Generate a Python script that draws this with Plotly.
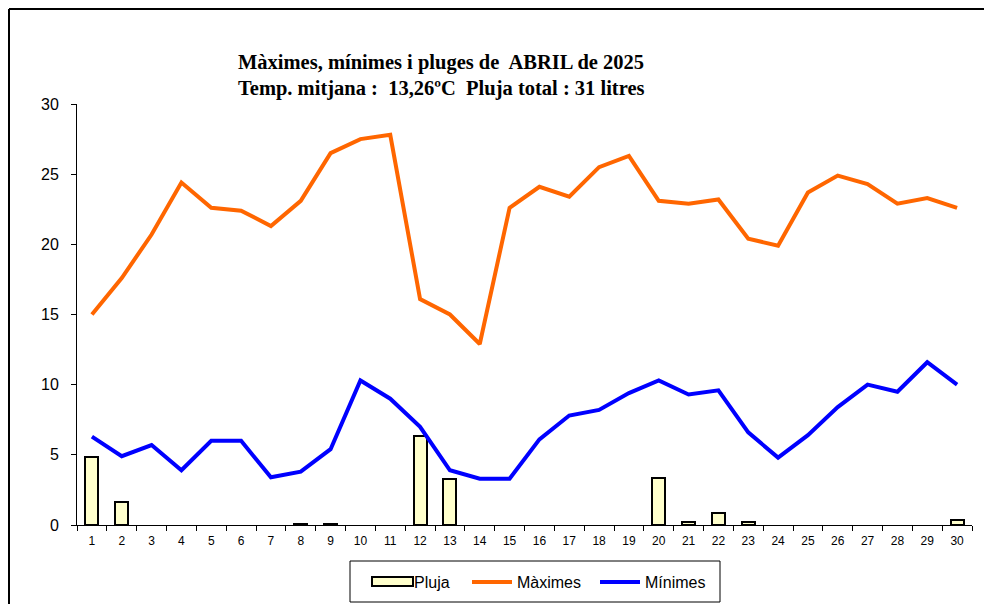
import plotly.graph_objects as go

days = [str(d) for d in range(1, 31)]
maximes = [15.0, 17.6, 20.7, 24.4, 22.6, 22.4, 21.3, 23.1, 26.5, 27.5,
           27.8, 16.1, 15.0, 12.9, 22.6, 24.1, 23.4, 25.5, 26.3, 23.1,
           22.9, 23.2, 20.4, 19.9, 23.7, 24.9, 24.3, 22.9, 23.3, 22.6]
minimes = [6.3, 4.9, 5.7, 3.9, 6.0, 6.0, 3.4, 3.8, 5.4, 10.3,
           9.0, 7.0, 3.9, 3.3, 3.3, 6.1, 7.8, 8.2, 9.4, 10.3,
           9.3, 9.6, 6.6, 4.8, 6.4, 8.4, 10.0, 9.5, 11.6, 10.0]
pluja = [4.85, 1.65, None, None, None, None, None, 0.1, 0.1, None,
         None, 6.35, 3.25, None, None, None, None, None, None, 3.35,
         0.2, 0.85, 0.2, None, None, None, None, None, None, 0.35]
yticks = [0, 5, 10, 15, 20, 25, 30]
title_lines = ["Màximes, mínimes i pluges de  ABRIL de 2025",
               "Temp. mitjana :  13,26ºC  Pluja total : 31 litres"]

OFF = 8  # page body margin
W, H = 992 - OFF, 604 - OFF
L, T = 77 - OFF, 104 - OFF
R = W - (972 - OFF)
B = H - (525 - OFF)
pw, ph = W - L - R, H - T - B

def px(x):
    return (x - OFF - L) / pw

def py(y):
    return (H - B - (y - OFF)) / ph

BAR_FILL = "#FFFFCC"

fig = go.Figure()
fig.add_trace(go.Bar(x=days, y=pluja, name="Pluja", width=0.44, showlegend=False,
                     marker=dict(color=BAR_FILL, line=dict(color="black", width=2))))
# legend entry for the bars (symbol drawn as a shape below)
fig.add_trace(go.Scatter(x=[None], y=[None], name="Pluja", mode="lines", legend="legend",
                         line=dict(color="rgba(0,0,0,0)", width=0)))
fig.add_trace(go.Scatter(x=days, y=maximes, name="Màximes", mode="lines", legend="legend2",
                         line=dict(color="#FF6600", width=4)))
fig.add_trace(go.Scatter(x=days, y=minimes, name="Mínimes", mode="lines", legend="legend3",
                         line=dict(color="#0000FF", width=4)))

def leg(x_text):
    return dict(orientation="h", x=px(x_text - 50), xanchor="left", y=py(582),
                yanchor="middle", borderwidth=0, bgcolor="rgba(0,0,0,0)",
                font=dict(size=16), itemwidth=40)

fig.update_layout(
    width=W, height=H,
    margin=dict(l=L, r=R, t=T, b=B, pad=0, autoexpand=False),
    paper_bgcolor="white", plot_bgcolor="white",
    font=dict(family="Arial, Liberation Sans, sans-serif", color="black"),
    showlegend=True,
    legend=leg(414), legend2=leg(517), legend3=leg(645),
    xaxis=dict(type="category", range=[-0.5, 29.5], showline=True, linecolor="black",
               linewidth=1, ticks="outside", tickson="boundaries", ticklen=5,
               tickcolor="black", tickfont=dict(size=12), showgrid=False, zeroline=False,
               ticklabelstandoff=5),
    yaxis=dict(range=[0, 30], tickvals=yticks, showline=True, linecolor="black",
               linewidth=1, ticks="outside", ticklen=5, tickcolor="black",
               tickfont=dict(size=16), showgrid=False, zeroline=False,
               ticklabelstandoff=9),
    bargap=0,
)

for t, yy in zip(title_lines, [63, 88]):
    fig.add_annotation(text="<b>%s</b>" % t, xref="paper", yref="paper",
                       x=px(441), y=py(yy), xanchor="center", yanchor="middle",
                       showarrow=False,
                       font=dict(family="Liberation Serif, Times New Roman, serif",
                                 size=20.5, color="black"))

# legend box
fig.add_shape(type="rect", xref="paper", yref="paper",
              x0=px(350), y0=py(561), x1=px(720), y1=py(602),
              line=dict(color="black", width=1), fillcolor="rgba(0,0,0,0)", layer="below")
# Pluja legend symbol
fig.add_shape(type="rect", xref="paper", yref="paper",
              x0=px(372), y0=py(577), x1=px(413), y1=py(586),
              line=dict(color="black", width=2), fillcolor=BAR_FILL, layer="above")

# outer frame
fig.add_shape(type="line", xref="paper", yref="paper",
              x0=px(9), y0=py(9), x1=px(992), y1=py(9),
              line=dict(color="black", width=2))
fig.add_shape(type="line", xref="paper", yref="paper",
              x0=px(9), y0=py(9), x1=px(9), y1=py(604),
              line=dict(color="black", width=2))

fig.write_html("out.html")
